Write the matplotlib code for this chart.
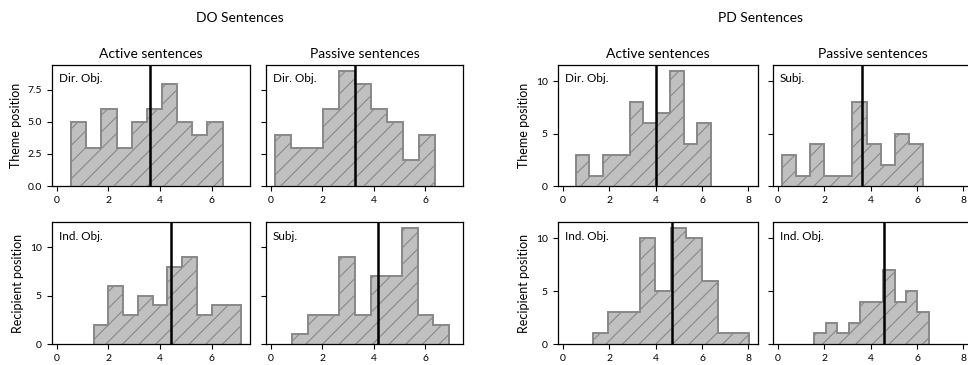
import matplotlib
matplotlib.use("Agg")
import matplotlib.pyplot as plt
import numpy as np

plt.rcParams['font.family'] = ['Lato', 'DejaVu Sans']
plt.rcParams['hatch.linewidth'] = 0.8

# histogram counts (10 bins each), bin range (lo, hi) and vertical line position
# DO sentences
do_act_dir = [5, 3, 6, 3, 5, 6, 8, 5, 4, 5]
do_act_dir_rng = (0.56, 6.41)
do_act_dir_line = 3.6
do_pas_dir = [4, 3, 3, 6, 9, 8, 6, 5, 2, 4]
do_pas_dir_rng = (0.17, 6.37)
do_pas_dir_line = 3.26
do_act_ind = [2, 6, 3, 5, 4, 8, 9, 3, 4, 4]
do_act_ind_rng = (1.43, 7.12)
do_act_ind_line = 4.42
do_pas_subj = [1, 3, 3, 9, 3, 7, 7, 12, 3, 2]
do_pas_subj_rng = (0.85, 6.93)
do_pas_subj_line = 4.17
# PD sentences
pd_act_dir = [3, 1, 3, 3, 8, 6, 7, 11, 4, 6]
pd_act_dir_rng = (0.56, 6.37)
pd_act_dir_line = 4.02
pd_pas_subj = [3, 1, 4, 1, 1, 8, 4, 2, 5, 4]
pd_pas_subj_rng = (0.19, 6.25)
pd_pas_subj_line = 3.62
pd_act_ind = [1, 3, 3, 10, 5, 11, 10, 6, 1, 1]
pd_act_ind_rng = (1.29, 8.02)
pd_act_ind_line = 4.71
pd_pas_ind = [1, 2, 1, 2, 4, 4, 7, 4, 5, 3]
pd_pas_ind_rng = (1.58, 6.51)
pd_pas_ind_line = 4.6

col_titles = ["Active sentences", "Passive sentences"]
row_labels = ["Theme position", "Recipient position"]

W, H = 968, 365
fig = plt.figure(figsize=(W / 100, H / 100), dpi=100)


def px_axes(x0, x1, y0, y1, **kw):
    return fig.add_axes([x0 / W, 1 - y1 / H, (x1 - x0) / W, (y1 - y0) / H], **kw)


def draw(ax, counts, rng, line, label):
    edges = np.linspace(rng[0], rng[1], len(counts) + 1)
    ax.stairs(counts, edges, fill=True, facecolor='#c0c0c0', edgecolor='#888888',
              hatch='//', linewidth=1.2)
    ax.stairs(counts, edges, fill=False, edgecolor='#888888', linewidth=1.2)
    ax.axvline(line, color='black', linewidth=1.8)
    ax.text(0.035, 0.93, label, transform=ax.transAxes, ha='left', va='top', fontsize=8.5)
    ax.tick_params(labelsize=7.5, length=3.5, width=0.8, pad=4)
    for s in ax.spines.values():
        s.set_linewidth(0.9)


groups = [
    dict(xs=[(52, 250), (266, 463)], ticks=[0, 2, 4, 6],
         top=[(do_act_dir, do_act_dir_rng, do_act_dir_line, "Dir. Obj."),
              (do_pas_dir, do_pas_dir_rng, do_pas_dir_line, "Dir. Obj.")],
         bot=[(do_act_ind, do_act_ind_rng, do_act_ind_line, "Ind. Obj."),
              (do_pas_subj, do_pas_subj_rng, do_pas_subj_line, "Subj.")],
         yt=[[0, 2.5, 5, 7.5], [0, 5, 10]], yfmt=["{:.1f}", "{:.0f}"]),
    dict(xs=[(558, 758), (773, 973)], ticks=[0, 2, 4, 6, 8],
         top=[(pd_act_dir, pd_act_dir_rng, pd_act_dir_line, "Dir. Obj."),
              (pd_pas_subj, pd_pas_subj_rng, pd_pas_subj_line, "Subj.")],
         bot=[(pd_act_ind, pd_act_ind_rng, pd_act_ind_line, "Ind. Obj."),
              (pd_pas_ind, pd_pas_ind_rng, pd_pas_ind_line, "Ind. Obj.")],
         yt=[[0, 5, 10], [0, 5, 10]], yfmt=["{:.0f}", "{:.0f}"]),
]
rows_y = [(65, 186), (222, 344)]

for g in groups:
    first = None
    for r, key in enumerate(["top", "bot"]):
        row_first = None
        for c in range(2):
            x0, x1 = g["xs"][c]
            y0, y1 = rows_y[r]
            ax = px_axes(x0, x1, y0, y1, sharex=first, sharey=row_first)
            if first is None:
                first = ax
            if row_first is None:
                row_first = ax
            counts, rng, line, label = g[key][c]
            draw(ax, counts, rng, line, label)
            ax.set_xticks(g["ticks"])
            ax.set_yticks(g["yt"][r])
            if c == 0:
                ax.set_yticklabels([g["yfmt"][r].format(v) for v in g["yt"][r]])
                ax.set_ylabel(row_labels[r], fontsize=9, labelpad=4)
            else:
                ax.tick_params(labelleft=False)
            if r == 0:
                ax.set_title(col_titles[c], fontsize=10, pad=5)

fig.text(240 / W, 1 - 18 / H, "DO Sentences", ha='center', va='center', fontsize=10)
fig.text(760 / W, 1 - 18 / H, "PD Sentences", ha='center', va='center', fontsize=10)

fig.savefig("out.png", dpi=100)
